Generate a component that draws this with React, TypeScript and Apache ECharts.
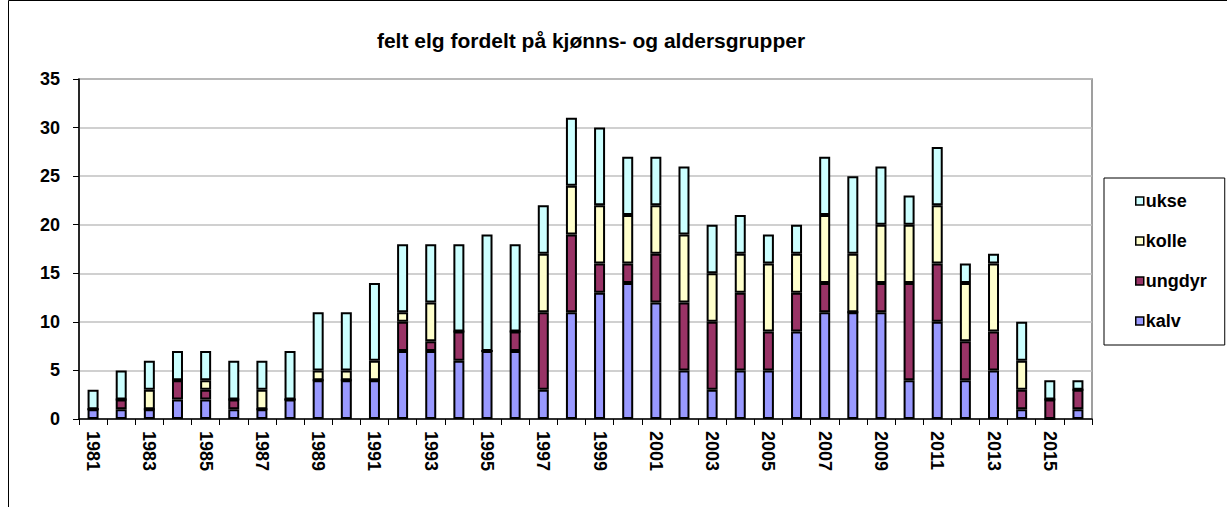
import React, { useEffect, useRef } from "react";
import * as echarts from "echarts";

const years = [
  "1981","1982","1983","1984","1985","1986","1987","1988","1989","1990",
  "1991","1992","1993","1994","1995","1996","1997","1998","1999","2000",
  "2001","2002","2003","2004","2005","2006","2007","2008","2009","2010",
  "2011","2012","2013","2014","2015","2016",
];
const kalv = [1,1,1,2,2,1,1,2,4,4,4,7,7,6,7,7,3,11,13,14,12,5,3,5,5,9,11,11,11,4,10,4,5,1,0,1];
const ungdyr = [0,1,0,2,1,1,0,0,0,0,0,3,1,3,0,2,8,8,3,2,5,7,7,8,4,4,3,0,3,10,6,4,4,2,2,2];
const kolle = [0,0,2,0,1,0,2,0,1,1,2,1,4,0,0,0,6,5,6,5,5,7,5,4,7,4,7,6,6,6,6,6,7,3,0,0];
const ukse = [2,3,3,3,3,4,3,5,6,6,8,7,6,9,12,9,5,7,8,6,5,7,5,4,3,3,6,8,6,3,6,2,1,4,2,1];

const titleText = "felt elg fordelt på kjønns- og aldersgrupper";
const FONT = "Liberation Sans, Arial, sans-serif";

export default function App() {
  const ref = useRef<HTMLDivElement>(null);
  useEffect(() => {
    if (!ref.current) return;
    const chart = echarts.init(ref.current, null, { renderer: "svg" });
    const mk = (name: string, data: number[], color: string) => ({
      name,
      type: "bar",
      stack: "total",
      data,
      barWidth: 11,
      itemStyle: { color, borderColor: "#000", borderWidth: 2 },
    });
    chart.setOption({
      animation: false,
      backgroundColor: "#fff",
      textStyle: { fontFamily: FONT },
      title: {
        text: titleText,
        left: 586,
        top: 25,
        textAlign: "center",
        textStyle: { fontFamily: FONT, fontWeight: "bold", fontSize: 21, color: "#000" },
      },
      grid: { left: 79, right: 135, top: 79, bottom: 88, show: true, borderColor: "#808080", borderWidth: 1.5, backgroundColor: "transparent" },
      legend: {
        orient: "vertical",
        left: 1104,
        top: 178,
        data: ["ukse", "kolle", "ungdyr", "kalv"],
        icon: "rect",
        itemWidth: 8,
        itemHeight: 8,
        itemGap: 22,
        padding: [14, 18, 15, 31],
        borderColor: "#000",
        borderWidth: 1,
        textStyle: { fontFamily: FONT, fontWeight: "bold", fontSize: 18, color: "#000", padding: [0, 0, 0, -3] },
        itemStyle: { borderColor: "#000", borderWidth: 1.5 },
      },
      xAxis: {
        type: "category",
        data: years,
        axisLine: { lineStyle: { color: "#000", width: 1.5 } },
        axisTick: { show: true, interval: 0, length: 6, lineStyle: { color: "#000", width: 1 } },
        axisLabel: {
          interval: 1,
          rotate: -90,
          margin: 12,
          fontFamily: FONT,
          fontWeight: "bold",
          fontSize: 18,
          color: "#000",
        },
      },
      yAxis: {
        type: "value",
        min: 0,
        max: 35,
        interval: 5,
        axisLine: { show: true, lineStyle: { color: "#000", width: 1.5 } },
        axisTick: { show: true, length: 6, lineStyle: { color: "#000", width: 1 } },
        splitLine: { lineStyle: { color: "#c0c0c0", width: 1.5 } },
        axisLabel: { margin: 19, fontFamily: FONT, fontWeight: "bold", fontSize: 18, color: "#000" },
      },
      graphic: [
        { type: "line", shape: { x1: 8.5, y1: 0.5, x2: 8.5, y2: 507 }, style: { stroke: "#000", lineWidth: 1 } },
        { type: "line", shape: { x1: 8.5, y1: 0.5, x2: 1227, y2: 0.5 }, style: { stroke: "#000", lineWidth: 1 } },
      ],
      series: [
        mk("kalv", kalv, "#9999FF"),
        mk("ungdyr", ungdyr, "#993366"),
        mk("kolle", kolle, "#FFFFCC"),
        mk("ukse", ukse, "#CCFFFF"),
      ],
    });
    return () => chart.dispose();
  }, []);
  return (
    <div style={{ position: "fixed", left: 0, top: 0, width: 1227, height: 507, background: "#fff" }}>
      <div ref={ref} style={{ width: 1227, height: 507 }} />
    </div>
  );
}
